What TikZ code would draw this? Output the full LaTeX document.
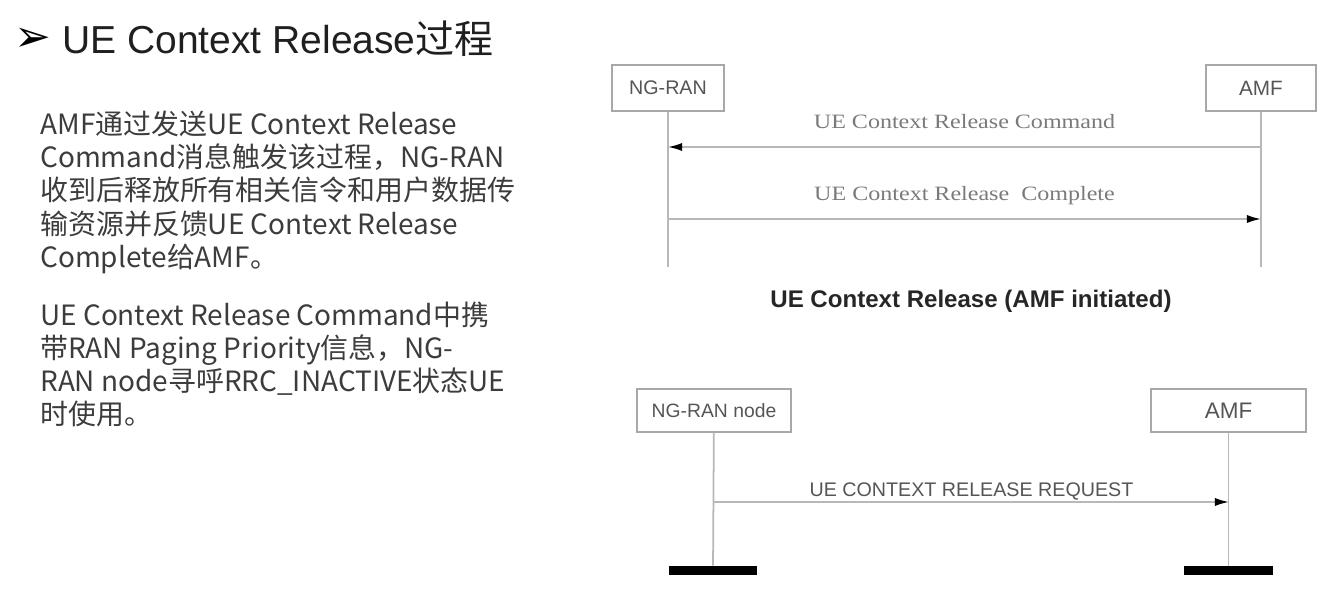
\documentclass[tikz,border=0pt]{standalone}
\usepackage{fontspec}
\setmainfont{Liberation Sans}
\newfontfamily\cjkfont{Noto Sans CJK SC}
\newfontfamily\symfont{DejaVu Sans}
\newfontfamily\timesfont{Liberation Serif}
\usetikzlibrary{arrows.meta, positioning}
\definecolor{lineGray}{HTML}{B8B8B8}
\definecolor{boxGray}{HTML}{A8A8A8}
\definecolor{labelGray}{HTML}{555555}
\definecolor{msgGray}{HTML}{7A7A7A}
\definecolor{bodyGray}{HTML}{3C3C3C}
\tikzstyle{entity} = [rectangle, draw=boxGray, line width=0.8pt, text=labelGray, inner sep=0pt]
\tikzstyle{lifeline} = [draw=lineGray, line width=1pt]
\tikzstyle{msg} = [lifeline, -{Latex[length=8pt, width=4.6pt, color=black]}]
\tikzstyle{msgLabel} = [inner sep=0pt, text depth=0pt, text=msgGray, font=\timesfont\fontsize{11.6}{13}\selectfont]
\tikzstyle{reqLabel} = [inner sep=0pt, text depth=0pt, text=labelGray, font=\fontsize{11.2}{13}\selectfont]
\tikzstyle{endBar} = [rectangle, fill=black, minimum width=1.78cm, minimum height=0.18cm, inner sep=0pt]
\tikzstyle{bodyText} = [anchor=north west, align=left, inner sep=0pt, text=bodyGray, font=\cjkfont\fontsize{15.9}{18.8}\selectfont]

\begin{document}
\begin{tikzpicture}[x=0.02cm, y=-0.02cm]
\useasboundingbox (0,0) rectangle (1330,595);

\node (bullet) [inner sep=0pt, text=black, font=\symfont\fontsize{25}{27}\selectfont] at (33,40) {➢};
\node (title) [anchor=base west, inner sep=0pt, text=black!88, font=\fontsize{22.2}{26}\selectfont] at (62,53) {UE Context Release{\cjkfont 过程}};

\node (para_1) [bodyText] at (40,111) {AMF通过发送UE Context Release\\
Command消息触发该过程，NG-RAN\\
收到后释放所有相关信令和用户数据传\\
输资源并反馈UE Context Release\\
Complete给AMF。};
\node (para_2) [bodyText] at (40,302) {UE Context Release Command中携\\
带RAN Paging Priority信息，NG-\\
RAN node寻呼RRC\_INACTIVE状态UE\\
时使用。};

\node (ran_1) [entity, minimum width=2.24cm, minimum height=0.92cm, font=\fontsize{11.2}{13}\selectfont] at (668,88) {NG-RAN};
\node (amf_1) [entity, minimum width=2.2cm, minimum height=0.92cm, font=\fontsize{11.8}{13}\selectfont] at (1261,88) {AMF};
\coordinate (ran_1_end) at (668,267);
\coordinate (amf_1_end) at (1261,267);
\coordinate (ran_cmd) at (668,147);
\coordinate (amf_cmd) at (1261,147);
\coordinate (ran_cpl) at (668,219);
\coordinate (amf_cpl) at (1261,219);
\draw [lifeline] (ran_1) -- (ran_1_end);
\draw [lifeline] (amf_1) -- (amf_1_end);
\draw [msg] (amf_cmd) -- node [msgLabel, above=10pt] {\scalebox{1.18}[1]{UE Context Release Command}} (ran_cmd);
\draw [msg] (ran_cpl) -- node [msgLabel, above=10pt] {\scalebox{1.18}[1]{UE Context Release\ \ Complete}} (amf_cpl);

\node (caption) [inner sep=0pt, text=black!85, font=\bfseries\fontsize{13.7}{16}\selectfont] at (971,301) {UE Context Release (AMF initiated)};

\node (ran_2) [entity, minimum width=3.08cm, minimum height=0.86cm, font=\fontsize{11}{13}\selectfont] at (714,410.5) {NG-RAN node};
\node (amf_2) [entity, minimum width=3.1cm, minimum height=0.86cm, font=\fontsize{12.8}{15}\selectfont] at (1228.5,410.5) {AMF};
\node (ran_bar) [endBar] at (713,570.5) {};
\node (amf_bar) [endBar] at (1228.5,570.5) {};
\coordinate (ran_req) at (714,502);
\coordinate (amf_req) at (1229,502);
\draw [lifeline] (ran_2) -- (ran_bar);
\draw [lifeline] (amf_2) -- (amf_bar);
\draw [msg] (ran_req) -- node [reqLabel, above=2.5pt] {UE CONTEXT RELEASE REQUEST} (amf_req);
\end{tikzpicture}
\end{document}
